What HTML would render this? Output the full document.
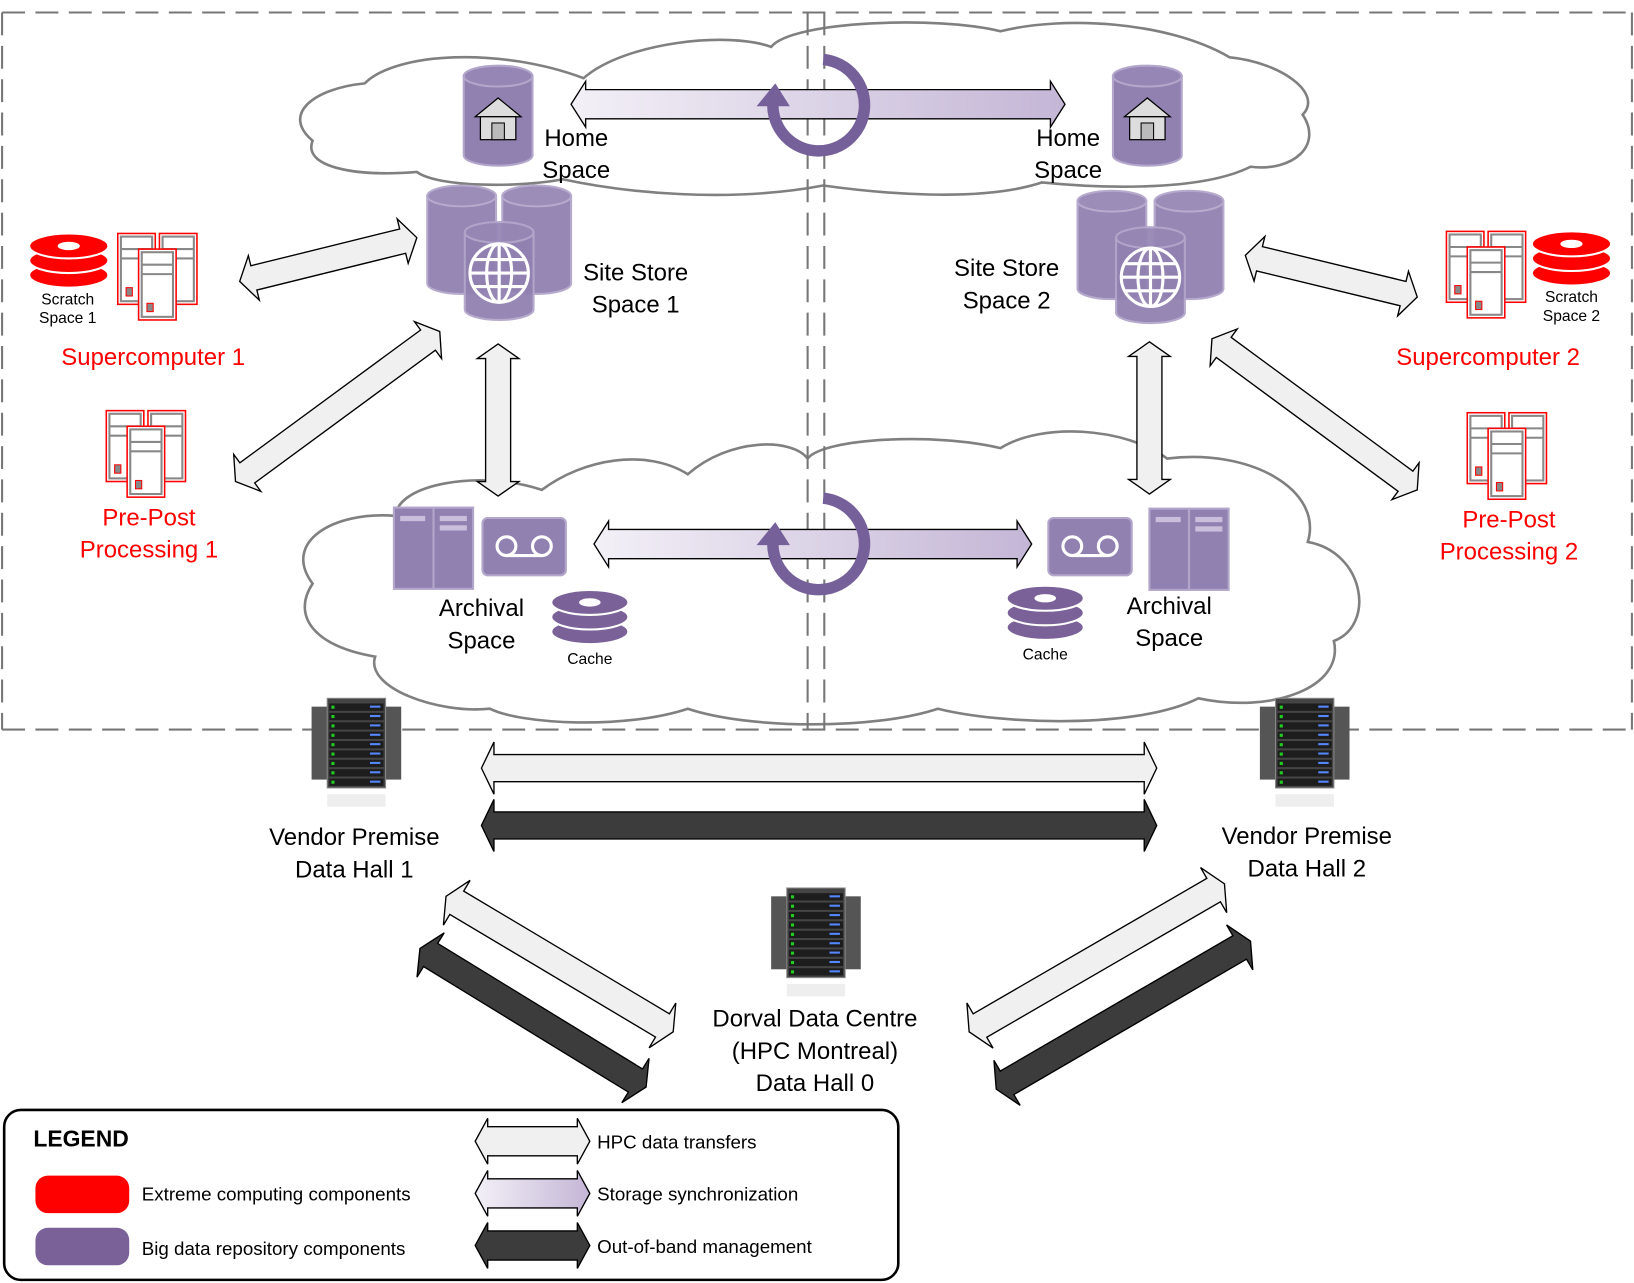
<!DOCTYPE html>
<html><head><meta charset="utf-8"><style>
html,body{margin:0;padding:0;background:#fff;}
svg{display:block;font-family:"Liberation Sans",sans-serif;}
</style></head><body>
<svg id="s" width="1634" height="1283" viewBox="0 0 1568 1231" preserveAspectRatio="none" xmlns="http://www.w3.org/2000/svg">
<defs>
<linearGradient id="sync" x1="0" x2="1" y1="0" y2="0"><stop offset="0" stop-color="#f3f0f7"/><stop offset="1" stop-color="#c4b6d6"/></linearGradient>
</defs>
<rect width="1568" height="1231" fill="#fff"/>
<g stroke="#777" stroke-width="2" stroke-dasharray="22,10" fill="none">
<line x1="2" y1="12" x2="1566" y2="12"/>
<line x1="2" y1="700" x2="1566" y2="700"/>
<line x1="2" y1="12" x2="2" y2="700"/>
<line x1="1566" y1="12" x2="1566" y2="700"/>
</g>
<path fill="#fff" stroke="#808080" stroke-width="2.5" d="M300,135 C270,110 300,85 350,80 C380,50 480,45 560,75 C600,40 700,30 740,45 C760,20 900,15 960,30 C1020,15 1120,20 1180,55 C1230,60 1270,90 1250,110 C1270,140 1240,165 1200,160 C1150,185 1050,180 1000,175 C940,195 840,185 790,178 C700,195 600,185 540,172 C500,180 420,180 400,165 C340,170 290,160 300,135 Z"/>
<path fill="#fff" stroke="#808080" stroke-width="2.5" d="M300,560 C270,520 320,490 380,495 C380,465 460,450 520,470 C560,440 620,430 660,455 C700,420 760,420 775,440 C790,420 900,415 960,430 C1000,405 1080,410 1120,440 C1200,430 1270,470 1255,520 C1310,530 1320,600 1280,615 C1290,660 1220,685 1150,670 C1090,700 960,695 900,680 C840,700 720,700 660,680 C600,700 500,695 470,680 C420,685 350,660 360,630 C300,620 280,590 300,560 Z"/>
<g stroke="#777" stroke-width="2" stroke-dasharray="22,10" fill="none">
<line x1="775" y1="12" x2="775" y2="700"/><line x1="791" y1="12" x2="791" y2="700"/>
</g>
<rect x="4" y="1065" width="858" height="163" rx="16" fill="#fff" stroke="#000" stroke-width="2.5"/>
<g id="arrows"></g>
<g fill="none" stroke="#76609a" stroke-width="11">
<path d="M790,57 A44,44 0 1 1 742,95"/>
<path d="M790,478 A44,44 0 1 1 742,516"/>
</g>
<polygon fill="#76609a" points="726,102 758,102 744,80"/>
<polygon fill="#76609a" points="726,523 758,523 744,501"/>
<g id="cyls"></g>
<g font-size="23" fill="#000" text-anchor="middle">
<text x="553" y="140">Home</text><text x="553" y="171">Space</text>
<text x="1025" y="140">Home</text><text x="1025" y="171">Space</text>
<text x="610" y="269">Site Store</text><text x="610" y="300">Space 1</text>
<text x="966" y="265">Site Store</text><text x="966" y="296">Space 2</text>
<text x="462" y="591">Archival</text><text x="462" y="622">Space</text>
<text x="1122" y="589">Archival</text><text x="1122" y="620">Space</text>
<text x="340" y="811">Vendor Premise</text><text x="340" y="842">Data Hall 1</text>
<text x="1254" y="810">Vendor Premise</text><text x="1254" y="841">Data Hall 2</text>
<text x="782" y="985">Dorval Data Centre</text><text x="782" y="1016">(HPC Montreal)</text><text x="782" y="1047">Data Hall 0</text>
</g>
<g font-size="15" fill="#000" text-anchor="middle">
<text x="65" y="292">Scratch</text><text x="65" y="310">Space 1</text>
<text x="1508" y="290">Scratch</text><text x="1508" y="308">Space 2</text>
<text x="566" y="637">Cache</text><text x="1003" y="633">Cache</text>
</g>
<g font-size="23" fill="#f00" text-anchor="middle">
<text x="147" y="350">Supercomputer 1</text>
<text x="1428" y="350">Supercomputer 2</text>
<text x="143" y="504">Pre-Post</text><text x="143" y="535">Processing 1</text>
<text x="1448" y="506">Pre-Post</text><text x="1448" y="537">Processing 2</text>
</g>
<text x="32" y="1100" font-size="22" font-weight="bold">LEGEND</text>
<rect x="34" y="1128" width="90" height="36" rx="12" fill="#f00"/>
<rect x="34" y="1178" width="90" height="36" rx="12" fill="#7a6198"/>
<g font-size="18"><text x="136" y="1152">Extreme computing components</text>
<text x="136" y="1204">Big data repository components</text>
<text x="573" y="1102">HPC data transfers</text>
<text x="573" y="1152">Storage synchronization</text>
<text x="573" y="1202">Out-of-band management</text></g>
</svg>
<script>
var NS="http://www.w3.org/2000/svg";
function el(p,t,a){var e=document.createElementNS(NS,t);for(var k in a)e.setAttribute(k,a[k]);p.appendChild(e);return e;}
var A=document.getElementById("arrows");
function arr(x1,y1,x2,y2,w,hw,hl,fill,stroke){
 var L=Math.hypot(x2-x1,y2-y1),ang=Math.atan2(y2-y1,x2-x1)*180/Math.PI;
 var g=el(A,"g",{transform:"translate("+x1+","+y1+") rotate("+ang+")"});
 var p=[[0,0],[hl,-hw],[hl,-w],[L-hl,-w],[L-hl,-hw],[L,0],[L-hl,hw],[L-hl,w],[hl,w],[hl,hw]].map(function(q){return q.join(",")}).join(" ");
 el(g,"polygon",{points:p,fill:fill,stroke:stroke||"#000","stroke-width":1.3});
}
var LG="#f0f0f0",DK="#3c3c3c";
arr(548,100,1022,100,14,22,14,"url(#sync)");
arr(570,522,990,522,14,22,14,"url(#sync)");
arr(230,270,400,228,12,22,14,LG);
arr(226,462,422,318,12,22,14,LG);
arr(478,330,478,476,12,20,14,LG);
arr(1103,328,1103,474,12,20,14,LG);
arr(1195,245,1360,285,12,22,14,LG);
arr(1163,325,1360,470,12,22,14,LG);
arr(462,737,1110,737,13,25,12,LG);
arr(462,792,1110,792,13,25,12,DK);
arr(428,860,646,990,13,25,12,LG);
arr(403,910,620,1043,13,25,12,DK);
arr(930,990,1175,848,13,25,12,LG);
arr(956,1045,1200,903,13,25,12,DK);
arr(456,1095,566,1095,14,22,12,LG);
arr(456,1145,566,1145,14,22,12,"url(#sync)");
arr(456,1195,566,1195,14,22,12,DK);
var C=document.getElementById("cyls");
function cyl(x,y,w,h,op){var g=el(C,"g",{opacity:op||1});
 el(g,"path",{d:"M"+x+","+(y+8)+" v"+(h-16)+" a"+w/2+",10 0 0 0 "+w+",0 v"+(-(h-16))+" Z",fill:"#9181b1",stroke:"#b3a6cb","stroke-width":2});
 el(g,"ellipse",{cx:x+w/2,cy:y+8,rx:w/2,ry:10,fill:"#9686b5",stroke:"#b3a6cb","stroke-width":2});}
cyl(445,65,66,92);cyl(1068,65,66,92);
cyl(410,180,66,100,.95);cyl(482,180,66,100,.95);cyl(446,215,66,90,.95);
cyl(1034,185,66,100,.95);cyl(1108,185,66,100,.95);cyl(1071,220,66,88,.95);
[[478,112],[1101,112]].forEach(function(c){var x=c[0],y=c[1];
 el(C,"polygon",{points:(x-22)+","+(y)+" "+x+","+(y-18)+" "+(x+22)+","+y,fill:"#ddd",stroke:"#000","stroke-width":1.2});
 el(C,"rect",{x:x-17,y:y,width:34,height:22,fill:"#ddd",stroke:"#000","stroke-width":1.2});
 el(C,"rect",{x:x-6,y:y+6,width:12,height:16,fill:"#bbb",stroke:"#000","stroke-width":1});});
[[479,262],[1104,266]].forEach(function(c){var x=c[0],y=c[1],g=el(C,"g",{fill:"none",stroke:"#fff","stroke-width":3});
 el(g,"circle",{cx:x,cy:y,r:28});el(g,"ellipse",{cx:x,cy:y,rx:12,ry:28});
 el(g,"line",{x1:x,y1:y-28,x2:x,y2:y+28});el(g,"line",{x1:x-28,y1:y,x2:x+28,y2:y});
 el(g,"line",{x1:x-24,y1:y-13,x2:x+24,y2:y-13});el(g,"line",{x1:x-24,y1:y+13,x2:x+24,y2:y+13});});
function rack(x,y){el(C,"rect",{x:x,y:y,width:76,height:78,fill:"#9181b1",stroke:"#b3a6cb","stroke-width":2});
 el(C,"line",{x1:x+38,y1:y,x2:x+38,y2:y+78,stroke:"#b3a6cb","stroke-width":2});
 el(C,"rect",{x:x+6,y:y+8,width:24,height:5,fill:"#c9bedb"});el(C,"rect",{x:x+44,y:y+8,width:26,height:5,fill:"#c9bedb"});el(C,"rect",{x:x+44,y:y+17,width:26,height:5,fill:"#c9bedb"});}
rack(378,487);rack(1103,488);
function tape(x,y){el(C,"rect",{x:x,y:y,width:80,height:55,rx:5,fill:"#9181b1",stroke:"#b3a6cb","stroke-width":2});
 el(C,"circle",{cx:x+23,cy:y+27,r:9,fill:"none",stroke:"#fff","stroke-width":3});el(C,"circle",{cx:x+57,cy:y+27,r:9,fill:"none",stroke:"#fff","stroke-width":3});
 el(C,"line",{x1:x+23,y1:y+36,x2:x+57,y2:y+36,stroke:"#fff","stroke-width":3});}
tape(463,497);tape(1006,497);
function disks(x,y,col,w){for(var i=2;i>=0;i--){el(C,"ellipse",{cx:x,cy:y+i*14,rx:w,ry:12,fill:col,stroke:"#fff","stroke-width":2});}
 el(C,"ellipse",{cx:x,cy:y,rx:w*0.28,ry:4,fill:"#fff"});}
disks(566,578,"#7a6198",37);disks(1003,574,"#7a6198",37);
disks(66,236,"#f00",38);disks(1508,234,"#f00",38);
function tower(x,y){for(var k=0;k<3;k++){var xx=x+[0,40,20][k],yy=y+[0,0,15][k];
 el(C,"rect",{x:xx,y:yy,width:36,height:68,fill:"#fff",stroke:"#f00","stroke-width":1.5});
 el(C,"rect",{x:xx+3,y:yy+3,width:30,height:62,fill:"#fff",stroke:"#888","stroke-width":2});
 el(C,"line",{x1:xx+3,y1:yy+15,x2:xx+33,y2:yy+15,stroke:"#888","stroke-width":2});
 el(C,"line",{x1:xx+3,y1:yy+24,x2:xx+33,y2:yy+24,stroke:"#888","stroke-width":2});
 el(C,"rect",{x:xx+8,y:yy+52,width:6,height:8,fill:"#888",stroke:"#f00"});}}
tower(113,224);tower(102,394);tower(1388,222);tower(1408,396);
function srv(x,y){el(C,"rect",{x:x,y:y+8,width:18,height:70,fill:"#555"});el(C,"rect",{x:x+68,y:y+8,width:18,height:70,fill:"#555"});
 el(C,"rect",{x:x+15,y:y,width:56,height:86,fill:"#444",stroke:"#888"});
 for(var i=0;i<9;i++){el(C,"rect",{x:x+17,y:y+5+i*9,width:52,height:7,fill:"#1d1d1d"});el(C,"rect",{x:x+19,y:y+7+i*9,width:3,height:3,fill:"#2c2"});el(C,"rect",{x:x+56,y:y+7+i*9,width:10,height:2,fill:"#58f"});}
 el(C,"rect",{x:x+15,y:y+92,width:56,height:12,fill:"#eee"});}
srv(299,670);srv(1209,670);srv(740,852);
</script>
</body></html>
